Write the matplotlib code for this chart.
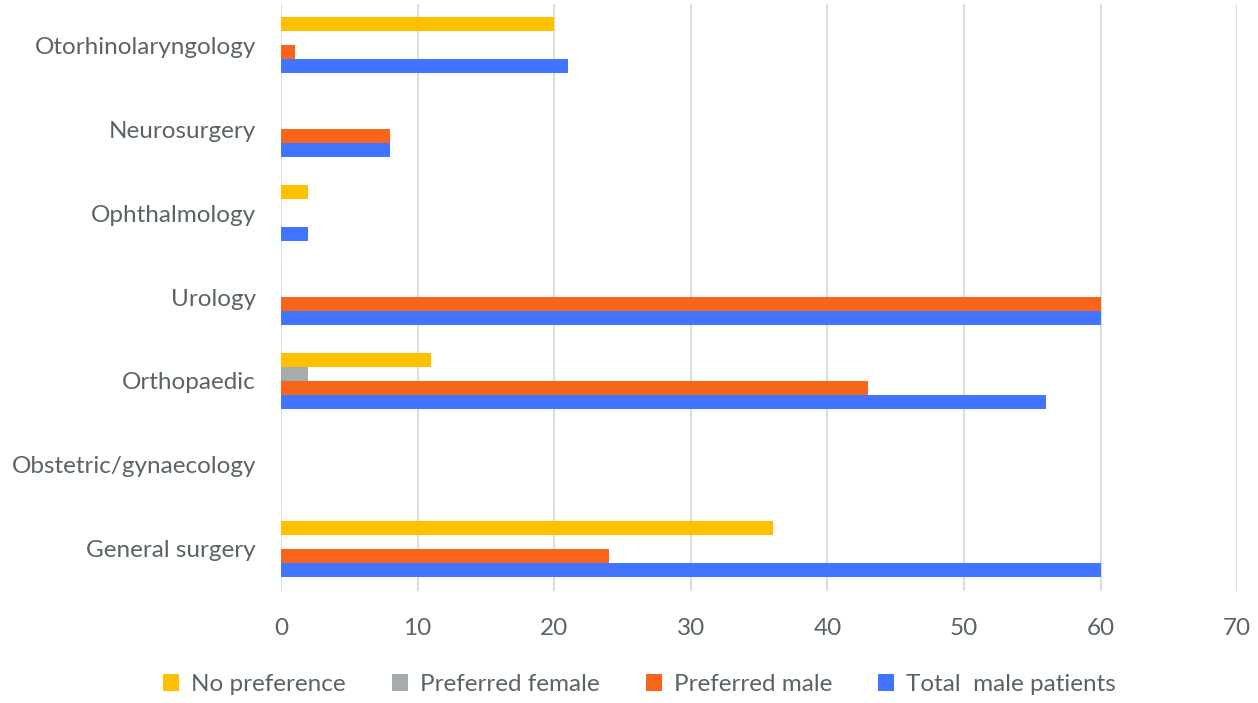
import numpy as np
import matplotlib.pyplot as plt

plt.rcParams['font.family'] = ['Lato', 'DejaVu Sans']

categories = ['Otorhinolaryngology', 'Neurosurgery', 'Ophthalmology', 'Urology',
              'Orthopaedic', 'Obstetric/gynaecology', 'General surgery']
no_pref = [20, 0, 2, 0, 11, 0, 36]
pref_female = [0, 0, 0, 0, 2, 0, 0]
pref_male = [1, 8, 0, 60, 43, 0, 24]
total_male = [21, 8, 2, 60, 56, 0, 60]

series = [('No preference', no_pref, '#FFC000'),
          ('Preferred female', pref_female, '#A5ACA9'),
          ('Preferred male', pref_male, '#F8651A'),
          ('Total  male patients', total_male, '#4275FF')]

txt = '#5A6466'
fig = plt.figure(figsize=(12.58, 7.03), dpi=100)
ax = fig.add_axes([0.2234, 0.16, 0.76, 0.835])

y = np.arange(len(categories))
h = 0.167
for i, (name, vals, col) in enumerate(series):
    ax.barh(y + (i - 1.5) * h, vals, height=h, color=col, label=name, zorder=3)

ax.set_ylim(len(categories) - 0.5, -0.5)
ax.set_yticks(y)
ax.set_yticklabels(categories)
ax.set_xlim(0, 70)
ax.set_xticks(range(0, 71, 10))
ax.grid(axis='x', color='#D9DFDE', linewidth=1.5, zorder=0)
for s in ax.spines.values():
    s.set_visible(False)
ax.tick_params(length=0, labelsize=17.5, labelcolor=txt)
ax.tick_params(axis='x', pad=20)
ax.tick_params(axis='y', pad=18)

ax.legend(loc='upper center', bbox_to_anchor=(0.375, -0.105), ncol=4, frameon=False,
          fontsize=17.5, labelcolor=txt, handlelength=0.65, handleheight=0.65,
          columnspacing=1.9, handletextpad=0.5)

fig.savefig('out.png', dpi=100)
